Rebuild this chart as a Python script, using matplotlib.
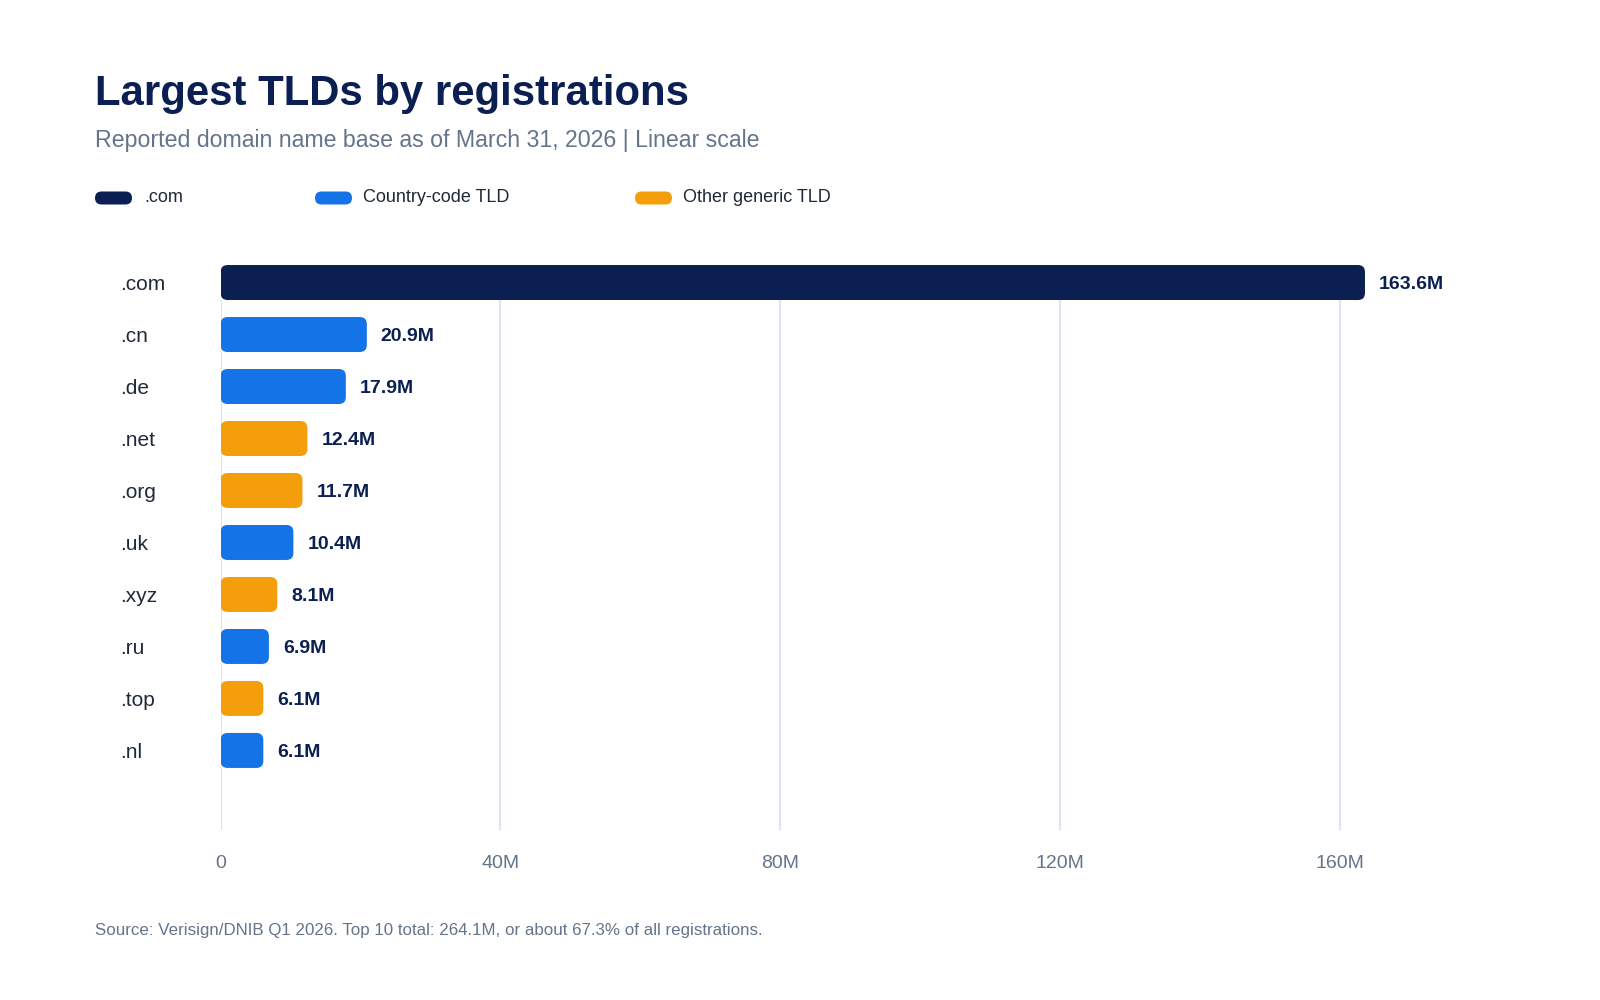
import matplotlib
matplotlib.use("Agg")
import matplotlib.pyplot as plt
from matplotlib.patches import FancyBboxPatch
from matplotlib.ticker import FuncFormatter

plt.rcParams['font.family'] = ['Liberation Sans', 'DejaVu Sans']

# data (millions of registrations)
tlds = [".com", ".cn", ".de", ".net", ".org", ".uk", ".xyz", ".ru", ".top", ".nl"]
values = [163.6, 20.9, 17.9, 12.4, 11.7, 10.4, 8.1, 6.9, 6.1, 6.1]
kinds = ["com", "cc", "cc", "gen", "gen", "cc", "gen", "cc", "gen", "cc"]
x_ticks = [0, 40, 80, 120, 160]

colors = {"com": "#0b1f52", "cc": "#1473e6", "gen": "#f59e0b"}
legend_items = [("com", ".com"), ("cc", "Country-code TLD"), ("gen", "Other generic TLD")]

NAVY = "#0b1f52"
GRAY = "#64748b"
TEXT = "#1f2937"
GRID = "#dde4ee"

fig = plt.figure(figsize=(16, 10), dpi=100)
ax = fig.add_axes([0.1379, 0.170, 0.9248 - 0.1379, 0.7362 - 0.170])
y_bottom = len(tlds) - 1 + 1.53
ax.set_xlim(0, 180)
ax.set_ylim(y_bottom, -0.36)

bar_h = 0.673

# grid, stops under the top bar
ax.vlines(x_ticks, y_bottom, bar_h / 2, color=GRID, lw=1.6, zorder=0)

# rounded bars, radius given in pixels
fig.canvas.draw()
px_x = ax.transData.transform((1, 0))[0] - ax.transData.transform((0, 0))[0]
px_y = abs(ax.transData.transform((0, 1))[1] - ax.transData.transform((0, 0))[1])
radius_px = 7
for i, (v, k) in enumerate(zip(values, kinds)):
    box = FancyBboxPatch((0, i - bar_h / 2), v, bar_h,
                         boxstyle=f"round,pad=0,rounding_size={radius_px / px_x}",
                         mutation_aspect=px_x / px_y,
                         fc=colors[k], ec="none", zorder=2)
    ax.add_patch(box)
    ax.text(v + 14 / px_x, i, f"{v:.1f}M", va="center_baseline", ha="left",
            fontsize=14, fontweight="bold", color=NAVY, clip_on=False)

ax.set_yticks(range(len(tlds)))
ax.set_yticklabels(tlds, ha="left", fontsize=15, color=TEXT)
ax.tick_params(axis="y", length=0, pad=72.5)
ax.set_xticks(x_ticks)
ax.xaxis.set_major_formatter(FuncFormatter(lambda x, p: "0" if x == 0 else f"{int(x)}M"))
ax.tick_params(axis="x", length=0, pad=18, labelsize=14, labelcolor=GRAY)
for s in ax.spines.values():
    s.set_visible(False)

# titles
fig.text(95 / 1600, 0.895, "Largest TLDs by registrations", fontsize=30.2,
         fontweight="bold", color=NAVY, va="baseline")
fig.text(95 / 1600, 0.853, "Reported domain name base as of March 31, 2026 | Linear scale",
         fontsize=16.65, color=GRAY, va="baseline")

# legend with pill markers
pill_x = [95, 315, 635]
text_x = [144, 363, 683]
leg_y = 1000 - 198
for (k, lab), px, tx in zip(legend_items, pill_x, text_x):
    pill = FancyBboxPatch((px, leg_y - 6.5), 37, 13,
                          boxstyle="round,pad=0,rounding_size=6.5",
                          fc=colors[k], ec="none", transform=None)
    fig.patches.append(pill)
    fig.text(tx / 1600, leg_y / 1000, lab, fontsize=13, color=TEXT, va="center")

fig.text(95 / 1600, 0.069,
         "Source: Verisign/DNIB Q1 2026. Top 10 total: 264.1M, or about 67.3% of all registrations.",
         fontsize=12.15, color=GRAY, va="center")

fig.savefig("out.png", dpi=100)
